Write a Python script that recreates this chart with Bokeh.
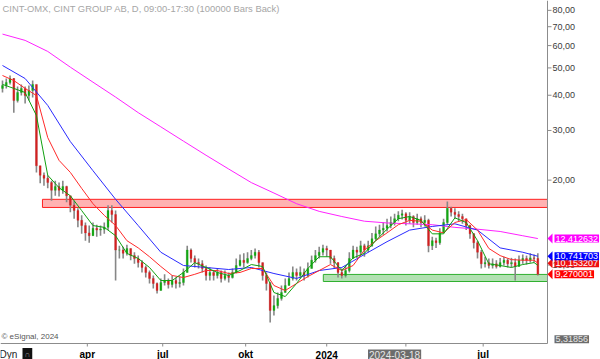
import numpy as np
from bokeh.plotting import figure
from bokeh.models import Range1d, ColumnDataSource
from bokeh.core.properties import value
from bokeh.embed import file_html
from bokeh.resources import INLINE

# ---------------- data (3-trading-day bars, CINT Group AB) ----------------
title_text = "CINT-OMX, CINT GROUP AB, D, 09:00-17:30 (100000 Bars Back)"
first_open = 42.3
closes = [43.3, 44.4, 45.85, 38.3, 40.9, 42.3, 39.9, 41.6, 43.7, 22.5,
          20.8, 20.3, 19.6, 18.4, 18.98, 18.4, 18.98, 17.6, 16.3, 15.6,
          14.4, 13.8, 13.0, 12.7, 13.5, 13.3, 13.4, 13.6, 15.6, 15.1,
          11.3, 11.3, 11.0, 11.45, 10.8, 10.55, 10.2, 9.80, 9.41, 8.96,
          8.60, 8.12, 8.67, 8.81, 8.53, 8.81, 8.60, 8.67, 9.41, 11.3,
          10.55, 10.2, 10.1, 9.72, 9.18, 9.41, 9.18, 9.41, 8.96, 9.18,
          9.03, 9.41, 9.96, 10.4, 10.2, 10.55, 10.8, 11.1, 10.2, 9.18,
          8.60, 6.90, 7.18, 7.61, 7.99, 8.46, 8.96, 9.41, 9.18, 9.41,
          9.18, 9.72, 10.4, 10.8, 11.1, 11.45, 11.3, 10.55, 10.2, 9.41,
          9.18, 9.56, 10.55, 11.3, 11.1, 11.7, 11.3, 11.7, 12.4, 12.9,
          13.3, 13.5, 13.8, 14.15, 14.6, 15.0, 15.2, 14.4, 14.86, 14.15,
          14.6, 14.15, 14.4, 11.7, 12.2, 12.0, 13.0, 14.15, 15.9, 15.4,
          15.1, 14.86, 14.6, 13.8, 12.9, 12.0, 11.1, 10.1, 10.2, 9.96,
          10.1, 9.88, 10.2, 10.4, 10.1, 10.2, 9.88, 10.4, 10.55, 10.4,
          10.6, 10.55, 9.27]
highs = [45.1, 45.85, 47.0, 46.0, 42.96, 43.7, 42.96, 43.3, 45.1, 43.7,
         22.5, 21.3, 20.8, 19.9, 19.9, 19.6, 19.9, 19.1, 17.6, 16.9,
         15.9, 15.0, 14.15, 13.8, 14.15, 13.9, 13.8, 14.15, 16.3, 16.3,
         15.6, 11.7, 11.6, 11.8, 11.45, 11.1, 10.8, 10.4, 9.96, 9.56,
         9.18, 8.67, 8.96, 9.27, 8.96, 9.18, 9.03, 9.10, 9.72, 11.7,
         11.45, 10.8, 10.55, 10.4, 9.96, 9.80, 9.56, 9.72, 9.56, 9.56,
         9.41, 9.72, 10.55, 10.9, 11.0, 11.1, 11.3, 11.45, 11.3, 10.2,
         9.41, 8.70, 7.80, 7.99, 8.46, 8.96, 9.41, 9.88, 9.72, 9.88,
         9.72, 10.2, 10.8, 11.3, 11.6, 11.8, 11.7, 11.3, 10.8, 10.2,
         9.72, 9.96, 11.1, 11.7, 11.6, 12.2, 11.9, 12.2, 13.0, 13.7,
         13.9, 14.15, 14.6, 14.86, 15.2, 15.5, 15.7, 15.4, 15.4, 15.0,
         15.2, 14.86, 15.0, 14.6, 12.6, 12.5, 13.5, 14.6, 16.8, 16.1,
         15.9, 15.5, 15.2, 14.6, 13.9, 13.0, 12.2, 11.3, 10.7, 10.55,
         10.55, 10.4, 10.6, 10.7, 10.55, 10.6, 10.55, 10.8, 10.9, 10.8,
         11.0, 10.9, 11.0]
lows = [40.9, 42.3, 43.7, 34.7, 37.7, 39.9, 37.4, 38.3, 39.3, 21.3,
        19.5, 19.1, 18.7, 16.9, 17.6, 17.5, 17.9, 16.7, 15.4, 14.6,
        13.6, 12.9, 12.2, 12.0, 12.7, 12.6, 12.7, 12.9, 13.3, 14.15,
        8.81, 10.55, 10.55, 10.8, 10.4, 10.1, 9.80, 9.41, 9.03, 8.60,
        8.26, 7.93, 8.12, 8.46, 8.26, 8.32, 8.26, 8.32, 8.46, 9.41,
        10.2, 9.80, 9.72, 9.41, 8.81, 8.81, 8.81, 8.96, 8.67, 8.81,
        8.67, 8.96, 9.35, 9.88, 9.80, 10.1, 10.4, 10.55, 9.80, 8.81,
        8.12, 6.25, 6.62, 7.01, 7.48, 7.99, 8.46, 8.81, 8.81, 8.96,
        8.81, 9.03, 9.72, 10.2, 10.55, 10.8, 10.7, 10.1, 9.72, 9.03,
        8.96, 9.03, 9.41, 10.55, 10.6, 10.8, 10.7, 11.1, 11.6, 12.2,
        12.6, 12.8, 13.15, 13.5, 13.8, 14.3, 14.5, 13.8, 14.0, 13.6,
        13.9, 13.6, 13.7, 11.1, 11.3, 11.5, 11.8, 13.0, 13.9, 14.86,
        14.6, 14.3, 14.0, 13.3, 12.4, 11.45, 10.55, 9.72, 9.80, 9.72,
        9.72, 9.72, 9.80, 9.96, 9.80, 9.80, 8.81, 9.88, 10.1, 10.04,
        10.2, 10.2, 9.18]

# moving averages
fast_bars = list(range(0, 142, 3)) + [142]
green_ma = [43.7, 42.3, 40.9, 33.9, 20.8, 18.8, 17.6, 15.6, 13.8, 13.6,
            12.7, 11.0, 10.55, 9.80, 8.81, 8.81, 9.41, 10.2, 9.80, 9.41,
            9.18, 9.56, 10.04, 9.88, 7.99, 7.73, 8.60, 9.72, 10.7, 10.7,
            9.56, 10.6, 11.0, 12.2, 13.4, 14.6, 14.86, 14.4, 12.9, 12.9,
            14.7, 14.15, 12.2, 10.1, 9.96, 9.80, 10.04, 10.2, 9.98]
red_ma = [47.0, 45.1, 42.3, 39.9, 28.3, 23.5, 21.3, 18.7, 16.5, 15.0,
          13.8, 12.2, 11.5, 10.7, 9.88, 9.18, 9.03, 9.27, 9.56, 9.56,
          9.33, 9.41, 9.72, 9.72, 8.46, 8.12, 8.60, 9.10, 9.56, 10.04,
          9.56, 9.96, 11.3, 12.2, 13.0, 13.9, 14.4, 14.3, 13.3, 13.0,
          14.15, 14.5, 13.3, 11.45, 10.8, 10.45, 10.4, 10.4, 10.153207]
slow_bars = list(range(0, 139, 6)) + [142]
blue_ma = [51.0, 45.85, 36.8, 27.4, 21.6, 17.1, 13.8, 11.1, 9.96, 9.80,
           9.64, 9.80, 9.33, 8.96, 9.56, 9.80, 10.9, 12.1, 13.3, 13.7,
           14.0, 13.3, 11.5, 11.1, 10.741703]
magenta_ma = [65.9, 62.6, 57.2, 50.3, 44.5, 39.4, 34.7, 30.9, 27.5, 24.5,
              21.9, 19.6, 18.0, 16.5, 15.5, 14.86, 14.3, 14.1, 14.0, 13.9,
              13.6, 13.4, 13.15, 12.7, 12.412632]
last_close = 9.270001

# support / resistance zones
red_zone_start, red_zone_low, red_zone_high = 10.6, 16.0, 17.1
green_zone_start, green_zone_low, green_zone_high = 85.1, 8.74, 9.26

# axes
x_tick_bars = [22.5, 42.5, 64.5, 86, 107, 127.5]
x_tick_labels = ["apr", "jul", "okt", "2024", "", "jul"]
y_ticks = [10, 20, 30, 40, 50, 60, 70, 80]
cursor_bar, cursor_date = 104, "2024-03-18"
cursor_price = 5.31856
cursor_price_text = "5,31856"

# ---------------- layout ----------------
FONT = "Liberation Sans"
W, H = 600, 359
BAR_PX = 3.77            # pixels per bar
PPD = 282.0              # pixels per price decade
X0 = -0.53
X1 = X0 + W / BAR_PX
Y_TOP = 86.7
Y_BOT = Y_TOP / 10 ** (H / PPD)
AX = X0 + 547 / BAR_PX               # right price axis position (bars)
AY = Y_TOP / 10 ** (343 / PPD)       # bottom time axis position (price)
AXIS_C = "#8c8c8c"

def dx(px):
    return px / BAR_PX

def fy(px):
    return 10 ** (px / PPD)

p = figure(width=W, height=H, x_range=Range1d(X0, X1), y_range=Range1d(Y_BOT, Y_TOP),
           y_axis_type="log", x_axis_location=None, y_axis_location=None,
           output_backend="svg", toolbar_location=None, min_border=0)
p.outline_line_color = None
p.xgrid.visible = False
p.ygrid.visible = False
p.background_fill_color = "white"
p.border_fill_color = "white"

def put_text(x, y, text, size, color, xo=0, yo=0, align="left", baseline="middle",
             bold=False, bg=None, pad=0):
    kw = {}
    if bg is not None:
        kw.update(background_fill_color=bg, padding=pad)
    p.text(x=x, y=y, text=text, x_offset=xo, y_offset=yo, text_align=align,
           text_baseline=baseline, text_font=value(FONT), text_font_size=size,
           text_color=color, text_font_style="bold" if bold else "normal", **kw)

# zones
p.quad(left=[red_zone_start], right=[AX], bottom=[red_zone_low], top=[red_zone_high],
       fill_color="#ff0000", fill_alpha=0.3, line_color="#ff2020", line_width=1)
p.quad(left=[green_zone_start], right=[AX], bottom=[green_zone_low], top=[green_zone_high],
       fill_color="#22aa22", fill_alpha=0.35, line_color="#30b030", line_width=1)

# candles
bars = np.arange(len(closes))
opens = np.array([first_open] + closes[:-1])
c = np.array(closes)
colors = np.where(c >= opens, "#12a812", "#d42020")
src = ColumnDataSource(dict(x=bars, h=highs, l=lows, top=np.maximum(opens, c),
                            bottom=np.minimum(opens, c), color=colors))
p.segment(x0="x", y0="h", x1="x", y1="l", source=src, line_color="#878787", line_width=1.6)
p.vbar(x="x", width=0.5, top="top", bottom="bottom", source=src,
       fill_color="color", line_color="color", line_width=0.3)

# moving averages
p.line(slow_bars, magenta_ma, line_color="#ff22ff", line_width=1)
p.line(slow_bars, blue_ma, line_color="#2a2aff", line_width=1)
p.line(fast_bars, red_ma, line_color="#ff2a2a", line_width=1)
p.line(fast_bars, green_ma, line_color="#10a010", line_width=1)

# axes (drawn through the plot scales)
p.segment(x0=[AX], y0=[AY], x1=[AX], y1=[Y_TOP], line_color=AXIS_C, line_width=1)
p.segment(x0=[X0], y0=[AY], x1=[AX], y1=[AY], line_color=AXIS_C, line_width=1)
p.segment(x0=[AX] * len(y_ticks), y0=y_ticks, x1=[AX + dx(4)] * len(y_ticks), y1=y_ticks,
          line_color=AXIS_C, line_width=1)
put_text([AX] * len(y_ticks), y_ticks, [f"{t:.2f}".replace(".", ",") for t in y_ticks],
         "9px", "#3c3c3c", xo=5)
p.segment(x0=x_tick_bars, y0=[AY] * len(x_tick_bars), x1=x_tick_bars,
          y1=[AY / fy(3)] * len(x_tick_bars), line_color=AXIS_C, line_width=1)
put_text(x_tick_bars, [AY] * len(x_tick_bars), x_tick_labels, "10px", "#000000",
         yo=11, align="center", bold=True)

# texts inside chart
put_text([X0], [Y_TOP], [title_text], "9.4px", "#a6a6a6", xo=2, yo=2, baseline="top")
put_text([X0], [AY], ["© eSignal, 2024"], "8px", "#555555", xo=1, yo=-7)

# price tags on the right axis
def tag(val, text, bg, fg="white", yo=0):
    f = fy(5)
    p.patch(x=[AX, AX + dx(5), AX + dx(5)], y=[val, val * f, val / f],
            fill_color=bg, line_color=None)
    put_text([AX], [val], [text], "9px", fg, xo=7, yo=yo, bg=bg, pad=1)

def fmt(v):
    return f"{v:.6f}".replace(".", ",")

tag(magenta_ma[-1], fmt(magenta_ma[-1]), "#ff00ff")
tag(red_ma[-1], fmt(red_ma[-1]), "#ee1010")
tag(blue_ma[-1], fmt(blue_ma[-1]), "#0000ff")
tag(last_close, fmt(last_close), "#ff0000")
put_text([AX], [cursor_price], [cursor_price_text], "9px", "#e6e6e6", xo=7, yo=-3,
         bg="#6c6c6c", pad=1)

# bottom strip
put_text([X0], [AY], ["Dyn"], "10px", "#222222", xo=-1, yo=11)
put_text([X0], [AY], ["∩"], "8px", "#9a9a9a", xo=22, yo=11, bg="#111111", pad=2)
put_text([cursor_bar], [AY], [cursor_date], "10px", "#e6e6e6", yo=11, align="center",
         bg="#6c6c6c", pad=1)

open("out.html", "w").write(file_html(p, INLINE))
